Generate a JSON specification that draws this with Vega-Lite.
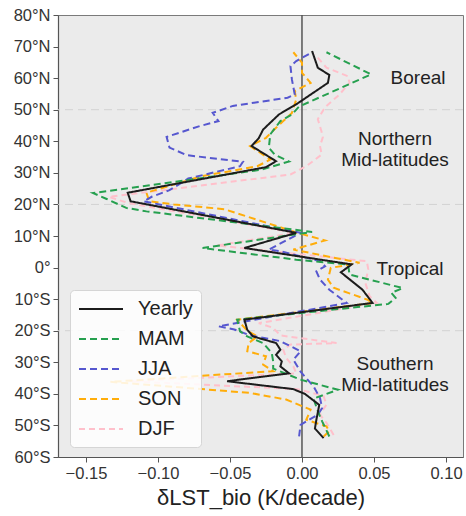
{
  "$schema": "https://vega.github.io/schema/vega-lite/v6.json",
  "width": 405,
  "height": 442,
  "autosize": {"type": "none"},
  "padding": {"left": 58, "top": 15, "right": 3, "bottom": 59},
  "background": "white",
  "config": {
    "view": {"fill": "#ebebeb", "stroke": "#7a7a7a", "strokeWidth": 1},
    "font": "Liberation Sans",
    "axis": {"grid": false, "domainColor": "#555", "domainWidth": 1.2, "tickColor": "#555", "tickSize": 5, "labelColor": "#333", "labelFontSize": 16.5, "labelFont": "Liberation Sans", "titleFont": "Liberation Sans", "titleColor": "#222", "titleFontWeight": "normal", "labelOverlap": false}
  },
  "datasets": {
    "grid": [{"lat": 50}, {"lat": 20}, {"lat": -20}],
    "zero": [{"value": 0}],
    "regions": [
      {"label": "Boreal", "value": 0.0806, "lat": 60.2},
      {"label": "Northern", "value": 0.0646, "lat": 40.8},
      {"label": "Mid-latitudes", "value": 0.0646, "lat": 34.2},
      {"label": "Tropical", "value": 0.075, "lat": -0.3},
      {"label": "Southern", "value": 0.0646, "lat": -30.4},
      {"label": "Mid-latitudes", "value": 0.0646, "lat": -37.1}
    ],
    "profiles": [
      {"season": "DJF", "lat": 67.5, "value": 0.009},
      {"season": "DJF", "lat": 63.3, "value": 0.017},
      {"season": "DJF", "lat": 60.6, "value": 0.032},
      {"season": "DJF", "lat": 58.5, "value": 0.033},
      {"season": "DJF", "lat": 54.8, "value": 0.026},
      {"season": "DJF", "lat": 50.8, "value": 0.016},
      {"season": "DJF", "lat": 47, "value": 0.011},
      {"season": "DJF", "lat": 43.2, "value": 0.0135},
      {"season": "DJF", "lat": 41.3, "value": 0.0145},
      {"season": "DJF", "lat": 38.5, "value": 0.0125},
      {"season": "DJF", "lat": 35.8, "value": 0.0137},
      {"season": "DJF", "lat": 32.1, "value": 0.003},
      {"season": "DJF", "lat": 29.5, "value": -0.008},
      {"season": "DJF", "lat": 22.4, "value": -0.134},
      {"season": "DJF", "lat": 20.5, "value": -0.121},
      {"season": "DJF", "lat": 11, "value": -0.005},
      {"season": "DJF", "lat": 7, "value": -0.059},
      {"season": "DJF", "lat": 2, "value": 0.045},
      {"season": "DJF", "lat": -0.5, "value": 0.046},
      {"season": "DJF", "lat": -4.9, "value": 0.044},
      {"season": "DJF", "lat": -9.1, "value": 0.047},
      {"season": "DJF", "lat": -11.2, "value": 0.052},
      {"season": "DJF", "lat": -17.6, "value": -0.03},
      {"season": "DJF", "lat": -19.1, "value": -0.02},
      {"season": "DJF", "lat": -21.5, "value": -0.015},
      {"season": "DJF", "lat": -23.9, "value": 0.024},
      {"season": "DJF", "lat": -24.4, "value": -0.008},
      {"season": "DJF", "lat": -26, "value": -0.013},
      {"season": "DJF", "lat": -28.6, "value": -0.011},
      {"season": "DJF", "lat": -31.3, "value": -0.006},
      {"season": "DJF", "lat": -33.5, "value": -0.004},
      {"season": "DJF", "lat": -36, "value": -0.12},
      {"season": "DJF", "lat": -38.5, "value": -0.003},
      {"season": "DJF", "lat": -40.7, "value": 0.015},
      {"season": "DJF", "lat": -43.4, "value": 0.017},
      {"season": "DJF", "lat": -46.6, "value": 0.0125},
      {"season": "DJF", "lat": -49.2, "value": 0.017},
      {"season": "DJF", "lat": -53, "value": 0.022},

      {"season": "SON", "lat": 68.2, "value": -0.006},
      {"season": "SON", "lat": 64.9, "value": 0.0},
      {"season": "SON", "lat": 61.7, "value": 0.0},
      {"season": "SON", "lat": 58.5, "value": 0.006},
      {"season": "SON", "lat": 55.9, "value": -0.005},
      {"season": "SON", "lat": 53.2, "value": -0.004},
      {"season": "SON", "lat": 49, "value": -0.007},
      {"season": "SON", "lat": 46.4, "value": -0.013},
      {"season": "SON", "lat": 44.3, "value": -0.018},
      {"season": "SON", "lat": 41.1, "value": -0.025},
      {"season": "SON", "lat": 38.5, "value": -0.036},
      {"season": "SON", "lat": 34.2, "value": -0.022},
      {"season": "SON", "lat": 32.1, "value": -0.031},
      {"season": "SON", "lat": 28.9, "value": -0.07},
      {"season": "SON", "lat": 23.7, "value": -0.108},
      {"season": "SON", "lat": 21, "value": -0.106},
      {"season": "SON", "lat": 20, "value": -0.089},
      {"season": "SON", "lat": 18.5, "value": -0.054},
      {"season": "SON", "lat": 11, "value": -0.003},
      {"season": "SON", "lat": 8.6, "value": 0.016},
      {"season": "SON", "lat": 5.7, "value": -0.006},
      {"season": "SON", "lat": 1.5, "value": 0.04},
      {"season": "SON", "lat": -0.1, "value": 0.02},
      {"season": "SON", "lat": -3.8, "value": 0.018},
      {"season": "SON", "lat": -6.4, "value": 0.022},
      {"season": "SON", "lat": -10.1, "value": 0.045},
      {"season": "SON", "lat": -11.2, "value": 0.0495},
      {"season": "SON", "lat": -16.5, "value": -0.045},
      {"season": "SON", "lat": -20, "value": -0.038},
      {"season": "SON", "lat": -21.8, "value": -0.031},
      {"season": "SON", "lat": -23.9, "value": -0.037},
      {"season": "SON", "lat": -26.5, "value": -0.038},
      {"season": "SON", "lat": -28.1, "value": -0.025},
      {"season": "SON", "lat": -30.7, "value": -0.027},
      {"season": "SON", "lat": -32.8, "value": -0.02},
      {"season": "SON", "lat": -36.2, "value": -0.133},
      {"season": "SON", "lat": -39.7, "value": -0.036},
      {"season": "SON", "lat": -41.8, "value": -0.011},
      {"season": "SON", "lat": -45, "value": 0.006},
      {"season": "SON", "lat": -48.2, "value": 0.003},
      {"season": "SON", "lat": -50.3, "value": 0.017},
      {"season": "SON", "lat": -51.8, "value": 0.019},
      {"season": "SON", "lat": -53.5, "value": 0.015},

      {"season": "JJA", "lat": 68.2, "value": 0.007},
      {"season": "JJA", "lat": 65.4, "value": -0.004},
      {"season": "JJA", "lat": 63.8, "value": -0.008},
      {"season": "JJA", "lat": 59.6, "value": -0.007},
      {"season": "JJA", "lat": 54.8, "value": -0.005},
      {"season": "JJA", "lat": 53.8, "value": -0.01},
      {"season": "JJA", "lat": 51.2, "value": -0.048},
      {"season": "JJA", "lat": 49, "value": -0.062},
      {"season": "JJA", "lat": 46.4, "value": -0.058},
      {"season": "JJA", "lat": 44.8, "value": -0.071},
      {"season": "JJA", "lat": 41.4, "value": -0.094},
      {"season": "JJA", "lat": 38, "value": -0.092},
      {"season": "JJA", "lat": 35.6, "value": -0.08},
      {"season": "JJA", "lat": 33.5, "value": -0.041},
      {"season": "JJA", "lat": 32.1, "value": -0.043},
      {"season": "JJA", "lat": 28.2, "value": -0.079},
      {"season": "JJA", "lat": 24.5, "value": -0.092},
      {"season": "JJA", "lat": 22.5, "value": -0.104},
      {"season": "JJA", "lat": 21, "value": -0.11},
      {"season": "JJA", "lat": 11, "value": -0.001},
      {"season": "JJA", "lat": 5.7, "value": -0.023},
      {"season": "JJA", "lat": 5.2, "value": -0.015},
      {"season": "JJA", "lat": 2, "value": 0.0125},
      {"season": "JJA", "lat": 0.4, "value": 0.016},
      {"season": "JJA", "lat": -1.2, "value": 0.01},
      {"season": "JJA", "lat": -3.8, "value": 0.0125},
      {"season": "JJA", "lat": -7, "value": 0.019},
      {"season": "JJA", "lat": -11.2, "value": 0.031},
      {"season": "JJA", "lat": -18.6, "value": -0.058},
      {"season": "JJA", "lat": -19.6, "value": -0.047},
      {"season": "JJA", "lat": -21.5, "value": -0.036},
      {"season": "JJA", "lat": -23.3, "value": -0.015},
      {"season": "JJA", "lat": -26.5, "value": -0.001},
      {"season": "JJA", "lat": -29.2, "value": -0.006},
      {"season": "JJA", "lat": -33, "value": -0.001},
      {"season": "JJA", "lat": -37.6, "value": 0.008},
      {"season": "JJA", "lat": -41.3, "value": 0.0125},
      {"season": "JJA", "lat": -44.5, "value": 0.014},
      {"season": "JJA", "lat": -46.6, "value": 0.011},
      {"season": "JJA", "lat": -49.8, "value": -0.001},
      {"season": "JJA", "lat": -53.5, "value": -0.002},

      {"season": "MAM", "lat": 68.2, "value": 0.017},
      {"season": "MAM", "lat": 61.2, "value": 0.048},
      {"season": "MAM", "lat": 51, "value": -0.002},
      {"season": "MAM", "lat": 48.5, "value": -0.007},
      {"season": "MAM", "lat": 46.4, "value": -0.015},
      {"season": "MAM", "lat": 42.2, "value": -0.022},
      {"season": "MAM", "lat": 38, "value": -0.023},
      {"season": "MAM", "lat": 35.8, "value": -0.019},
      {"season": "MAM", "lat": 33.6, "value": -0.009},
      {"season": "MAM", "lat": 31, "value": -0.028},
      {"season": "MAM", "lat": 23.6, "value": -0.145},
      {"season": "MAM", "lat": 21.8, "value": -0.136},
      {"season": "MAM", "lat": 18.9, "value": -0.122},
      {"season": "MAM", "lat": 17.8, "value": -0.108},
      {"season": "MAM", "lat": 11.3, "value": 0.007},
      {"season": "MAM", "lat": 6.2, "value": -0.069},
      {"season": "MAM", "lat": 2.5, "value": -0.004},
      {"season": "MAM", "lat": 1, "value": 0.032},
      {"season": "MAM", "lat": -2.2, "value": 0.033},
      {"season": "MAM", "lat": -6.5, "value": 0.07},
      {"season": "MAM", "lat": -8, "value": 0.062},
      {"season": "MAM", "lat": -9.6, "value": 0.065},
      {"season": "MAM", "lat": -11.5, "value": 0.06},
      {"season": "MAM", "lat": -16.5, "value": -0.045},
      {"season": "MAM", "lat": -20.2, "value": -0.043},
      {"season": "MAM", "lat": -21.8, "value": -0.038},
      {"season": "MAM", "lat": -23.9, "value": -0.027},
      {"season": "MAM", "lat": -27, "value": -0.021},
      {"season": "MAM", "lat": -29.7, "value": -0.02},
      {"season": "MAM", "lat": -32, "value": -0.02},
      {"season": "MAM", "lat": -35.5, "value": -0.001},
      {"season": "MAM", "lat": -38.7, "value": 0.025},
      {"season": "MAM", "lat": -41.5, "value": 0.008},
      {"season": "MAM", "lat": -45.5, "value": 0.011},
      {"season": "MAM", "lat": -48.7, "value": 0.014},
      {"season": "MAM", "lat": -53.5, "value": 0.019},

      {"season": "Yearly", "lat": 68.6, "value": 0.007},
      {"season": "Yearly", "lat": 63.3, "value": 0.011},
      {"season": "Yearly", "lat": 61, "value": 0.019},
      {"season": "Yearly", "lat": 58.5, "value": 0.018},
      {"season": "Yearly", "lat": 51.7, "value": -0.004},
      {"season": "Yearly", "lat": 48.5, "value": -0.016},
      {"season": "Yearly", "lat": 43.7, "value": -0.027},
      {"season": "Yearly", "lat": 41, "value": -0.03},
      {"season": "Yearly", "lat": 38.5, "value": -0.035},
      {"season": "Yearly", "lat": 33.7, "value": -0.018},
      {"season": "Yearly", "lat": 31.8, "value": -0.025},
      {"season": "Yearly", "lat": 23.7, "value": -0.121},
      {"season": "Yearly", "lat": 21, "value": -0.119},
      {"season": "Yearly", "lat": 11, "value": -0.004},
      {"season": "Yearly", "lat": 6.2, "value": -0.04},
      {"season": "Yearly", "lat": 1, "value": 0.0345},
      {"season": "Yearly", "lat": -1.5, "value": 0.027},
      {"season": "Yearly", "lat": -7, "value": 0.042},
      {"season": "Yearly", "lat": -11.2, "value": 0.049},
      {"season": "Yearly", "lat": -16.5, "value": -0.04},
      {"season": "Yearly", "lat": -19.7, "value": -0.038},
      {"season": "Yearly", "lat": -21.8, "value": -0.034},
      {"season": "Yearly", "lat": -23.9, "value": -0.018},
      {"season": "Yearly", "lat": -26, "value": -0.015},
      {"season": "Yearly", "lat": -27.6, "value": -0.018},
      {"season": "Yearly", "lat": -29.7, "value": -0.014},
      {"season": "Yearly", "lat": -31.3, "value": -0.015},
      {"season": "Yearly", "lat": -33.5, "value": -0.009},
      {"season": "Yearly", "lat": -36, "value": -0.052},
      {"season": "Yearly", "lat": -38.5, "value": -0.006},
      {"season": "Yearly", "lat": -40, "value": 0.002},
      {"season": "Yearly", "lat": -43.5, "value": 0.012},
      {"season": "Yearly", "lat": -48.2, "value": 0.01},
      {"season": "Yearly", "lat": -51, "value": 0.009},
      {"season": "Yearly", "lat": -54, "value": 0.015}
    ]
  },
  "layer": [
    {
      "data": {"name": "grid"},
      "mark": {"type": "rule", "color": "#d2d2d2", "strokeWidth": 1, "strokeDash": [8, 5]},
      "encoding": {
        "y": {"field": "lat", "type": "quantitative", "scale": {"domain": [-60, 80], "nice": false, "zero": false},
          "axis": {"values": [-60, -50, -40, -30, -20, -10, 0, 10, 20, 30, 40, 50, 60, 70, 80], "labelExpr": "datum.value > 0 ? datum.value + '°N' : (datum.value < 0 ? (-datum.value) + '°S' : '0°')", "title": null, "labelPadding": 3}}
      }
    },
    {
      "data": {"name": "zero"},
      "mark": {"type": "rule", "color": "#555", "strokeWidth": 1.5},
      "encoding": {
        "x": {"field": "value", "type": "quantitative", "scale": {"domain": [-0.1694, 0.1118], "nice": false, "zero": false},
          "axis": {"values": [-0.15, -0.1, -0.05, 0, 0.05, 0.1], "format": ".2f", "title": "δLST_bio (K/decade)", "titleFontSize": 22, "titlePadding": 6, "labelPadding": 3}}
      }
    },
    {
      "data": {"name": "profiles"},
      "mark": {"type": "line", "strokeWidth": 2, "clip": true},
      "encoding": {
        "x": {"field": "value", "type": "quantitative",
          "axis": {"values": [-0.15, -0.1, -0.05, 0, 0.05, 0.1], "format": ".2f", "title": "δLST_bio (K/decade)", "titleFontSize": 22, "titlePadding": 6, "labelPadding": 3}},
        "y": {"field": "lat", "type": "quantitative",
          "axis": {"values": [-60, -50, -40, -30, -20, -10, 0, 10, 20, 30, 40, 50, 60, 70, 80], "labelExpr": "datum.value > 0 ? datum.value + '°N' : (datum.value < 0 ? (-datum.value) + '°S' : '0°')", "title": null, "labelPadding": 3}},
        "order": {"field": "lat", "type": "quantitative"},
        "color": {"field": "season", "type": "nominal",
          "scale": {"domain": ["Yearly", "MAM", "JJA", "SON", "DJF"], "range": ["#1c1c1c", "#26a04f", "#5657cf", "#ffad0a", "#ffc0cb"]},
          "legend": {"orient": "none", "legendX": 12, "legendY": 275, "title": null, "symbolType": "M-1,0H3.4", "symbolSize": 400, "symbolStrokeWidth": 2, "labelFontSize": 20, "labelColor": "#222", "labelOffset": 38, "rowPadding": 9, "padding": 8, "fillColor": "rgba(255,255,255,0.85)", "strokeColor": "#d5d5d5", "cornerRadius": 4}},
        "strokeDash": {"field": "season", "type": "nominal",
          "scale": {"domain": ["Yearly", "MAM", "JJA", "SON", "DJF"], "range": [[1, 0], [7, 4], [7, 4], [7, 4], [6, 4]]},
          "legend": {"orient": "none", "legendX": 12, "legendY": 275, "title": null, "symbolType": "M-1,0H3.4", "symbolSize": 400, "symbolStrokeWidth": 2, "labelFontSize": 20, "labelColor": "#222", "labelOffset": 38, "rowPadding": 9, "padding": 8, "fillColor": "rgba(255,255,255,0.85)", "strokeColor": "#d5d5d5", "cornerRadius": 4}}
      }
    },
    {
      "data": {"name": "regions"},
      "mark": {"type": "text", "fontSize": 19, "color": "#222", "align": "center", "baseline": "middle"},
      "encoding": {
        "x": {"field": "value", "type": "quantitative",
          "axis": {"values": [-0.15, -0.1, -0.05, 0, 0.05, 0.1], "format": ".2f", "title": "δLST_bio (K/decade)", "titleFontSize": 22, "titlePadding": 6, "labelPadding": 3}},
        "y": {"field": "lat", "type": "quantitative",
          "axis": {"values": [-60, -50, -40, -30, -20, -10, 0, 10, 20, 30, 40, 50, 60, 70, 80], "labelExpr": "datum.value > 0 ? datum.value + '°N' : (datum.value < 0 ? (-datum.value) + '°S' : '0°')", "title": null, "labelPadding": 3}},
        "text": {"field": "label"}
      }
    }
  ]
}
